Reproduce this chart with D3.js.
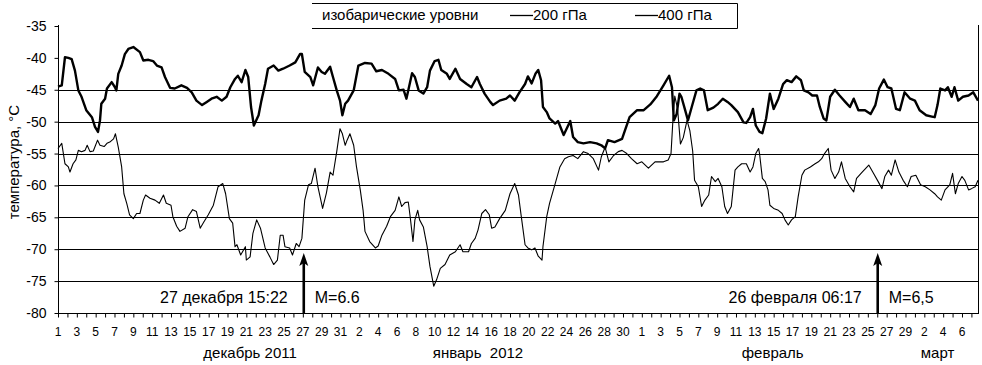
<!DOCTYPE html>
<html>
<head>
<meta charset="utf-8">
<script src="https://cdn.jsdelivr.net/npm/d3@7"></script>
<style>
    body { margin: 0; background: #fff; }
    svg { display: block; font-family: 'Liberation Sans', Arial, sans-serif; }
</style>
</head>
<body>
<div id="chart"></div>
<script>
'use strict';

// day index counted from 1 Dec 2011 00:00, temperature in degrees C
var t400 = [[0,-44.5],[0.4,-44.3],[0.74,-39.9],[1.1,-40],[1.45,-40.2],[1.8,-42],[2.16,-45.1],[2.5,-46.1],[3.0,-48.2],[3.6,-49.3],[3.93,-50.8],[4.25,-51.6],[4.46,-49.8],[4.6,-47.2],[5.0,-46.4],[5.2,-44.8],[5.7,-43.8],[6.05,-44.6],[6.2,-45.1],[6.4,-42.5],[6.76,-41.2],[7.1,-39.4],[7.47,-38.6],[8.0,-38.3],[8.7,-39.1],[9.06,-40.4],[9.6,-40.3],[10.1,-40.5],[10.5,-41.2],[11.0,-41.5],[11.36,-43],[11.9,-44.7],[12.4,-44.8],[13.1,-44.3],[13.7,-44.7],[14.2,-45.4],[14.7,-46.7],[15.3,-47.4],[15.8,-46.9],[16.3,-46.4],[16.85,-46.1],[17.4,-46.7],[17.9,-46.1],[18.3,-44.6],[18.8,-43.3],[19.1,-42.8],[19.5,-43.8],[19.9,-41.9],[20.2,-43],[20.5,-47.7],[20.8,-50.6],[21.3,-49],[21.6,-46.7],[22.0,-44.1],[22.3,-41.7],[22.9,-41.2],[23.4,-42],[23.9,-41.7],[24.6,-41.2],[25.2,-40.7],[25.7,-39.4],[25.9,-39.4],[26.2,-42.2],[26.8,-43],[27.1,-44.3],[27.6,-41.5],[28.0,-42.2],[28.35,-42.5],[28.9,-41.4],[29.2,-43],[29.6,-45.1],[29.95,-46.7],[30.2,-49],[30.5,-47.2],[30.8,-46.7],[31.4,-45.1],[31.9,-41.2],[32.6,-40.8],[33.3,-40.9],[33.8,-42.1],[34.4,-41.9],[35.1,-42.5],[35.8,-43.3],[36.2,-45.1],[36.7,-45],[37.0,-46.4],[37.6,-42.4],[37.9,-43],[38.3,-45.1],[38.8,-45.6],[39.2,-44.6],[39.5,-42],[40.0,-40.5],[40.4,-40.3],[40.7,-41.9],[41.3,-42.5],[41.6,-43.3],[42.2,-41.7],[42.7,-43.3],[43.4,-44.1],[43.9,-44.6],[44.5,-43],[44.8,-44.1],[45.3,-45.6],[45.9,-46.9],[46.2,-47.4],[46.9,-46.7],[47.6,-46.4],[48.0,-45.9],[48.5,-46.7],[49.0,-45.4],[49.6,-44.1],[49.9,-42.9],[50.3,-44],[50.7,-42.5],[51.0,-41.9],[51.3,-43.5],[51.5,-47.7],[51.9,-48.5],[52.2,-49.5],[52.8,-50.3],[53.1,-49.9],[53.7,-52.1],[54.4,-49.9],[54.7,-52.4],[55.2,-53.2],[55.8,-53.4],[56.5,-53.2],[57.2,-53.4],[57.7,-53.7],[58.1,-54.2],[58.4,-52.9],[59.1,-53.2],[59.9,-52.7],[60.2,-51.4],[60.7,-49.3],[61.5,-48.2],[62.2,-48.2],[62.9,-47.3],[63.6,-46],[64.3,-44.3],[64.9,-42.8],[65.2,-44.6],[65.4,-49.8],[65.7,-48.8],[66.0,-45.6],[66.2,-46.1],[66.6,-48.2],[66.9,-49.8],[67.3,-47.7],[67.8,-45.1],[68.2,-44.8],[68.6,-45.1],[69.0,-48.2],[69.6,-47.8],[70.1,-47.2],[70.6,-46.4],[71.1,-46.9],[71.5,-47.4],[72.2,-48.5],[72.8,-50.1],[73.1,-50.2],[73.5,-49.3],[73.8,-48],[74.1,-50.6],[74.5,-51.6],[74.8,-51.8],[75.2,-49.5],[75.6,-45.6],[76.0,-48],[76.5,-46.4],[77.0,-44.1],[77.4,-43.5],[77.9,-43.8],[78.4,-42.9],[78.9,-43.5],[79.2,-45.1],[79.7,-45.4],[80.1,-45.9],[80.6,-45.9],[80.9,-47.7],[81.3,-49.5],[81.6,-49.8],[82.0,-46.1],[82.5,-45],[83.0,-45.9],[83.6,-46.9],[84.1,-47.7],[84.5,-46.4],[85.0,-48.2],[85.7,-48.2],[86.3,-48.8],[86.8,-47.4],[87.2,-44.8],[87.7,-43.4],[88.1,-44.6],[88.5,-44.8],[89.0,-48],[89.4,-48.2],[89.9,-45.4],[90.5,-46.4],[91.0,-46.7],[91.5,-48.2],[92.2,-49],[92.8,-49.2],[93.1,-49.3],[93.4,-47.4],[93.7,-44.8],[94.2,-45.1],[94.5,-44.6],[94.9,-46.1],[95.2,-44.6],[95.6,-46.7],[96.1,-46.1],[96.7,-45.9],[97.2,-45.4],[97.7,-46.7]];

var t200 = [[0,-54.2],[0.4,-53.4],[0.74,-56.6],[1.1,-57.1],[1.27,-57.9],[1.6,-56.6],[1.9,-56],[2.16,-54.5],[2.5,-54.7],[2.87,-54.5],[3.1,-53.7],[3.4,-54.7],[3.75,-54.6],[4.2,-52.9],[4.46,-53.7],[4.9,-53.9],[5.2,-53.4],[5.5,-53.2],[5.9,-52.7],[6.1,-51.9],[6.4,-54],[6.76,-57.1],[7.0,-61.3],[7.3,-62.8],[7.6,-64.6],[8.0,-65.2],[8.35,-64.4],[8.7,-64.4],[9.06,-62.3],[9.3,-61.5],[9.77,-62],[10.3,-62.3],[10.76,-62.8],[11.2,-61.5],[11.5,-62.8],[12.0,-63.1],[12.2,-64.9],[12.6,-66.4],[12.95,-67.2],[13.5,-66.7],[13.8,-64.9],[14.3,-63.8],[14.7,-64.1],[15.1,-66.7],[15.5,-65.7],[15.96,-64.6],[16.5,-63.1],[17.0,-60.2],[17.5,-59.7],[17.8,-61.3],[18.2,-65.2],[18.55,-65.9],[18.8,-69.6],[19.0,-69.3],[19.4,-70.9],[19.9,-69.6],[20.0,-71.7],[20.4,-71.2],[20.7,-67.5],[21.1,-65.4],[21.5,-66.7],[22.0,-69.8],[22.5,-71.2],[22.9,-72.4],[23.3,-71.7],[23.6,-67.8],[23.9,-67.8],[24.1,-69.6],[24.6,-69.8],[24.9,-70.9],[25.3,-69.1],[25.6,-69.6],[25.9,-68.3],[26.2,-62.3],[26.6,-59.9],[26.9,-59.7],[27.3,-57.3],[27.6,-60.2],[28.1,-63.6],[28.5,-61.2],[28.9,-57.9],[29.2,-58.4],[29.6,-54.7],[29.95,-51.1],[30.2,-51.9],[30.5,-53.7],[30.7,-52.9],[31.0,-51.9],[31.4,-53.7],[31.7,-57.1],[32.1,-60.7],[32.4,-63.9],[32.6,-67.2],[33.1,-68.8],[33.7,-69.8],[34.0,-69.5],[34.4,-67.8],[34.9,-66.4],[35.3,-64.9],[35.8,-63.9],[36.2,-61.8],[36.5,-63.3],[36.85,-62.7],[37.2,-62.6],[37.4,-64.9],[37.7,-68.8],[37.9,-65.4],[38.2,-63.9],[38.4,-65.4],[38.8,-66.5],[39.2,-69.6],[39.5,-72.7],[39.9,-75.8],[40.2,-74.8],[40.6,-73],[41.1,-72.4],[41.6,-70.9],[42.2,-70.4],[42.7,-69.3],[43.0,-70.4],[43.6,-70.4],[43.9,-69.1],[44.3,-68.3],[44.6,-67],[45.0,-64.4],[45.4,-63.8],[45.8,-64.6],[46.05,-66.7],[46.4,-66.5],[46.9,-65.2],[47.5,-63.9],[48.0,-61.3],[48.5,-59.7],[48.9,-61.5],[49.2,-64.9],[49.6,-69.3],[49.9,-69.8],[50.3,-70.1],[50.65,-69.8],[51.0,-71.1],[51.4,-71.7],[51.5,-69.6],[51.9,-64.9],[52.2,-62.8],[52.8,-59.7],[53.3,-57.1],[53.8,-55.8],[54.2,-55.5],[54.7,-55.3],[55.2,-55.8],[55.8,-54.7],[56.3,-55],[56.85,-55.8],[57.4,-57.6],[57.7,-55.5],[58.1,-54],[58.5,-56.3],[59.0,-55.3],[59.5,-54.7],[59.9,-54.5],[60.4,-55],[60.9,-55.8],[61.5,-56.6],[62.0,-56.3],[62.7,-57.3],[63.4,-56.3],[64.3,-56.3],[64.8,-56],[65.1,-55],[65.3,-49.8],[65.5,-46],[65.8,-48],[66.1,-53.5],[66.4,-52.5],[66.8,-49.8],[67.1,-51.4],[67.4,-54.6],[67.6,-59.2],[68.0,-60.2],[68.35,-63.3],[68.7,-62.3],[69.1,-61.5],[69.4,-58.6],[69.8,-59.4],[70.1,-58.9],[70.5,-60.2],[70.8,-63.3],[71.1,-64.4],[71.5,-63.3],[71.9,-57.6],[72.2,-57.1],[72.6,-56.6],[73.1,-56.6],[73.5,-57.9],[73.8,-57.1],[74.1,-55],[74.4,-54.2],[74.5,-55],[74.8,-58.9],[75.1,-59.4],[75.4,-60.7],[75.6,-63.1],[76.0,-63.6],[76.5,-63.9],[76.9,-64.4],[77.2,-65.4],[77.55,-66.2],[77.9,-65.4],[78.3,-64.9],[78.6,-61.8],[79.0,-58.4],[79.3,-57.6],[79.9,-57.1],[80.4,-56.6],[80.75,-56.3],[81.1,-55.8],[81.4,-55],[81.8,-54.2],[82.1,-57.6],[82.5,-58.9],[82.9,-57.9],[83.2,-56.3],[83.6,-58.9],[84.1,-60.2],[84.5,-61],[84.8,-58.9],[85.4,-57.9],[86.1,-56.8],[86.6,-58.1],[87.1,-59.4],[87.5,-60.5],[87.8,-58.6],[88.2,-57.6],[88.5,-58.4],[88.9,-56],[89.3,-57.9],[89.75,-59.2],[90.2,-60.2],[90.6,-58.6],[91.1,-58.4],[91.6,-59.9],[92.1,-60.2],[92.6,-60.7],[93.1,-61.3],[93.4,-61.8],[93.8,-62.3],[94.2,-60.7],[94.7,-59.9],[95.0,-58.1],[95.3,-61.3],[95.6,-59.7],[96.0,-58.6],[96.3,-59.2],[96.7,-60.7],[97.0,-60.5],[97.4,-60.2],[97.7,-59.2]];

// one label every second day, starting 1 Dec
var dayLabels = [1,3,5,7,9,11,13,15,17,19,21,23,25,27,29,31,
                 2,4,6,8,10,12,14,16,18,20,22,24,26,28,30,
                 1,3,5,7,9,11,13,15,17,19,21,23,25,27,29,
                 2,4,6];
var monthLabels = ['декабрь 2011', 'январь  2012', 'февраль', 'март'];
var yTicks = [-35, -40, -45, -50, -55, -60, -65, -70, -75, -80];
var gridValues = [-45, -50, -55, -60, -65, -70, -75];

var legendTitle = 'изобарические уровни';
var seriesNames = ['200 гПа', '400 гПа'];

var eventLabels = ['27 декабря 15:22', '26 февраля 06:17'];
var eventMagnitudes = ['M=6.6', 'M=6,5'];
var eventDays = [26.1, 87.05];

var svgWidth = 982, svgHeight = 365;
var nDays = 97.7;

var x = d3.scaleLinear().domain([0, nDays]).range([58, 978]);
var y = d3.scaleLinear().domain([-80, -35]).range([313, 26]);

var svg = d3.select('#chart')
    .append('svg')
    .attr('width', svgWidth)
    .attr('height', svgHeight);

// horizontal grid
svg.append('g')
    .selectAll('line')
    .data(gridValues)
    .enter().append('line')
    .attr('x1', x(0)).attr('x2', x(nDays))
    .attr('y1', function (d) { return Math.round(y(d)) + 0.5; })
    .attr('y2', function (d) { return Math.round(y(d)) + 0.5; })
    .attr('stroke', '#000')
    .attr('stroke-width', 1);

// frame: left axis, right border
svg.append('line')
    .attr('x1', 58.5).attr('x2', 58.5).attr('y1', 25).attr('y2', 313)
    .attr('stroke', '#000');
svg.append('line')
    .attr('x1', 978.5).attr('x2', 978.5).attr('y1', 25).attr('y2', 313)
    .attr('stroke', '#000');

var yAxis = svg.append('g')
    .attr('transform', 'translate(58.5,0)')
    .call(d3.axisLeft(y).tickValues(yTicks).tickSize(4).tickPadding(8)
        .tickFormat(function (d) { return d; }));
yAxis.select('.domain').remove();
yAxis.selectAll('text').style('font-size', '14px').attr('fill', '#000')
    .style('font-family', 'Liberation Sans, Arial, sans-serif');

var dayTicks = d3.range(0, 98);
var xAxis = svg.append('g')
    .attr('transform', 'translate(0,313.5)')
    .call(d3.axisBottom(x).tickValues(dayTicks).tickSize(4).tickFormat(''));
xAxis.select('.domain').attr('d', 'M58,0H979');

svg.append('g')
    .selectAll('text')
    .data(dayLabels)
    .enter().append('text')
    .attr('x', function (d, i) { return x(i * 2); })
    .attr('y', 336)
    .attr('text-anchor', 'middle')
    .style('font-size', '12px')
    .text(function (d) { return d; });

var monthAt = [20.4, 44.6, 75.9, 93.4];
svg.append('g')
    .selectAll('text')
    .data(monthLabels)
    .enter().append('text')
    .attr('x', function (d, i) { return x(monthAt[i]); })
    .attr('y', 358)
    .attr('text-anchor', 'middle')
    .style('font-size', '15px')
    .style('white-space', 'pre')
    .text(function (d) { return d; });

svg.append('text')
    .attr('transform', 'translate(19,162) rotate(-90)')
    .attr('text-anchor', 'middle')
    .style('font-size', '15px')
    .text('температура, °C');

// series
var line = d3.line()
    .x(function (d) { return x(d[0]); })
    .y(function (d) { return y(d[1]); });

svg.append('path')
    .datum(t200)
    .attr('d', line)
    .attr('fill', 'none')
    .attr('stroke', '#000')
    .attr('stroke-width', 1.1)
    .attr('stroke-linejoin', 'round');

svg.append('path')
    .datum(t400)
    .attr('d', line)
    .attr('fill', 'none')
    .attr('stroke', '#000')
    .attr('stroke-width', 2.4)
    .attr('stroke-linejoin', 'round');

// earthquake markers
var events = svg.append('g')
    .selectAll('g')
    .data(eventDays)
    .enter().append('g')
    .attr('transform', function (d) { return 'translate(' + x(d) + ',0)'; });

events.append('line')
    .attr('x1', 0).attr('x2', 0)
    .attr('y1', y(-80)).attr('y2', 262)
    .attr('stroke', '#000')
    .attr('stroke-width', 2.6);

events.append('path')
    .attr('d', 'M0,253L4.5,266L0,263L-4.5,266Z')
    .attr('fill', '#000');

events.append('text')
    .attr('x', -16).attr('y', 303)
    .attr('text-anchor', 'end')
    .style('font-size', '16px')
    .text(function (d, i) { return eventLabels[i]; });

events.append('text')
    .attr('x', 11).attr('y', 303)
    .style('font-size', '16px')
    .text(function (d, i) { return eventMagnitudes[i]; });

// legend
var legend = svg.append('g');
legend.append('path')
    .attr('d', 'M312,3.5H737.5V28.5H312')
    .attr('fill', 'none')
    .attr('stroke', '#000');
legend.append('text')
    .attr('x', 322).attr('y', 20)
    .style('font-size', '15px')
    .text(legendTitle);

var legendAt = [510, 635];
var items = legend.selectAll('.item')
    .data(seriesNames)
    .enter().append('g')
    .attr('class', 'item')
    .attr('transform', function (d, i) { return 'translate(' + legendAt[i] + ',0)'; });

items.append('line')
    .attr('x1', 0).attr('x2', 23)
    .attr('y1', 15.5).attr('y2', 15.5)
    .attr('stroke', '#000')
    .attr('stroke-width', 1.3);

items.append('text')
    .attr('x', 23).attr('y', 20)
    .style('font-size', '15px')
    .text(function (d) { return d; });
</script>
</body>
</html>
